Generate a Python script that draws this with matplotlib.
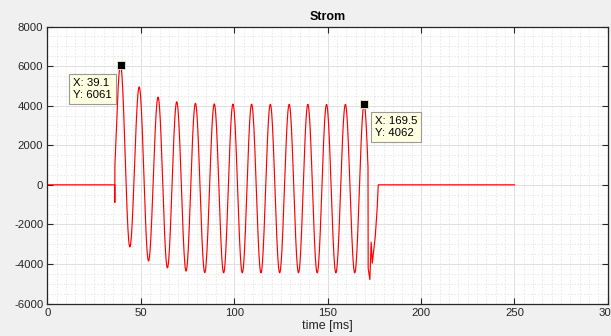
import numpy as np
import matplotlib
matplotlib.use("Agg")
import matplotlib.pyplot as plt
from matplotlib.ticker import MultipleLocator

# ---- data ----
lead_t = [0.0, 36.0, 36.05, 36.1]
lead_v = [0, 0, -890, 980]
virtual_trough = (34.08, -1750)       # start of first rising edge (clipped at 36.1)

peak_t = [39.1, 49.1, 59.2, 69.2, 79.2, 89.3, 99.3, 109.3, 119.3, 129.4, 139.4, 149.4, 159.5, 169.5]
peak_v = [6061, 4950, 4430, 4200, 4120, 4090, 4080, 4075, 4070, 4065, 4065, 4062, 4062, 4062]
trough_t = [44.1, 54.1, 64.2, 74.2, 84.2, 94.3, 104.3, 114.3, 124.3, 134.4, 144.4, 154.4, 164.5, 174.5]
trough_v = [-3140, -3850, -4200, -4360, -4440, -4450, -4450, -4450, -4450, -4450, -4450, -4450, -4450, -4450]
cut_t = 171.6                          # falling edge after last peak stops here

tail_t = [171.7, 172.6, 173.3, 173.9, 175.5, 176.5, 177.1, 250.0]
tail_v = [-4230, -4790, -2900, -3960, -2600, -1200, 0, 0]

tip1 = (39.1, 6061)
tip2 = (169.5, 4062)

# ---- build curve: half-cosine shape between read extrema ----
def half_cos(t0, v0, t1, v1, ts, te, n=40):
    tt = np.linspace(ts, te, n)
    s = (tt - t0) / (t1 - t0)
    return tt, v0 + (v1 - v0) * (1 - np.cos(np.pi * s)) / 2

T = list(lead_t)
V = list(lead_v)
tt, vv = half_cos(virtual_trough[0], virtual_trough[1], peak_t[0], peak_v[0], lead_t[-1], peak_t[0])
T += list(tt[1:]); V += list(vv[1:])
for i in range(len(peak_t)):
    end = trough_t[i] if i < len(peak_t) - 1 else cut_t
    tt, vv = half_cos(peak_t[i], peak_v[i], trough_t[i], trough_v[i], peak_t[i], end)
    T += list(tt[1:]); V += list(vv[1:])
    if i < len(peak_t) - 1:
        tt, vv = half_cos(trough_t[i], trough_v[i], peak_t[i + 1], peak_v[i + 1], trough_t[i], peak_t[i + 1])
        T += list(tt[1:]); V += list(vv[1:])
T += tail_t; V += tail_v

plt.rcParams['font.family'] = ['Liberation Sans', 'DejaVu Sans']
plt.rcParams['axes.unicode_minus'] = False
fig = plt.figure(figsize=(6.11, 3.36), dpi=100, facecolor='#f0f0f0')
ax = fig.add_axes([0.0777, 0.0967, 0.9171, 0.8243])
ax.set_facecolor('white')

ax.plot(T, V, color='#ff0000', lw=0.85)

ax.set_xlim(0, 300)
ax.set_ylim(-6000, 8000)
ax.xaxis.set_major_locator(MultipleLocator(50))
ax.xaxis.set_minor_locator(MultipleLocator(5))
ax.yaxis.set_major_locator(MultipleLocator(2000))
ax.yaxis.set_minor_locator(MultipleLocator(500))
ax.grid(which='major', color='#e0e0e0', lw=0.7, ls='-')
ax.grid(which='minor', color='#e6e6e6', lw=0.6, ls=(0, (2, 2)))
ax.set_axisbelow(True)
ax.tick_params(which='major', direction='in', length=4, width=0.8, color='#262626',
               top=True, right=True, labelsize=8.2, labelcolor='#262626', pad=3)
ax.tick_params(which='minor', length=0)
for sp in ax.spines.values():
    sp.set_color('#262626')
    sp.set_linewidth(0.9)

ax.set_title('Strom', fontsize=9, fontweight='bold', color='black', pad=5)
ax.set_xlabel('time [ms]', fontsize=9, color='#262626', labelpad=2)

# data tips
for (x, y) in (tip1, tip2):
    ax.plot([x], [y], marker='s', ms=5.5, mfc='black', mec='#f4f0c0', mew=0.6, zorder=5)

bbox = dict(boxstyle='square,pad=0.35', fc='#ffffe1', ec='#9a9a9a', lw=0.8)
ax.text(13.6, 5420, 'X: 39.1\nY: 6061', fontsize=8.2, va='top', ha='left',
        bbox=bbox, zorder=6, linespacing=1.3)
ax.text(175.4, 3480, 'X: 169.5\nY: 4062', fontsize=8.2, va='top', ha='left',
        bbox=bbox, zorder=6, linespacing=1.3)

fig.savefig('out.png', dpi=100, facecolor=fig.get_facecolor())
